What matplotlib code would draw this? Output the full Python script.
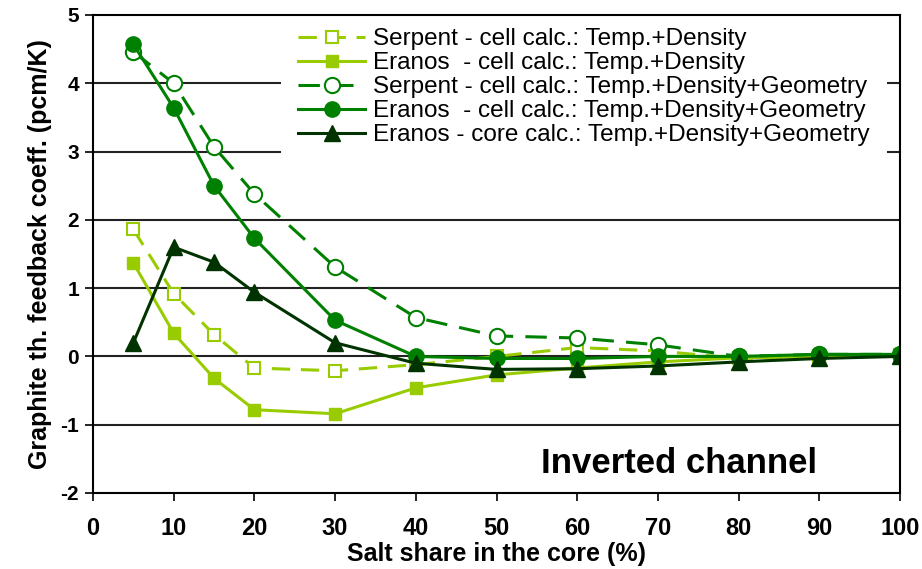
import numpy as np
import matplotlib
matplotlib.use("Agg")
import matplotlib.pyplot as plt

plt.rcParams['font.family'] = ['Liberation Sans', 'DejaVu Sans']
plt.rcParams['axes.unicode_minus'] = False

salt = [5, 10, 15, 20, 30, 40, 50, 60, 70, 80, 90, 100]

serpent_td = [1.86, 0.92, 0.32, -0.17, -0.21, -0.12, 0.0, 0.13, 0.08, -0.03, 0.0, 0.02]
eranos_td = [1.37, 0.34, -0.32, -0.78, -0.84, -0.46, -0.27, -0.17, -0.08, -0.02, 0.0, 0.01]
serpent_tdg = [4.46, 4.0, 3.07, 2.38, 1.31, 0.57, 0.3, 0.27, 0.17, 0.0, 0.03, 0.03]
eranos_tdg = [4.57, 3.64, 2.5, 1.73, 0.53, 0.0, -0.03, -0.03, 0.0, 0.0, 0.03, 0.03]
eranos_core = [0.2, 1.6, 1.38, 0.94, 0.2, -0.1, -0.19, -0.18, -0.14, -0.08, -0.03, 0.0]

labels = [
    "Serpent - cell calc.: Temp.+Density",
    "Eranos  - cell calc.: Temp.+Density",
    "Serpent - cell calc.: Temp.+Density+Geometry",
    "Eranos  - cell calc.: Temp.+Density+Geometry",
    "Eranos - core calc.: Temp.+Density+Geometry",
]

light = "#99cc00"
mid = "#008000"
dark = "#003300"

fig = plt.figure(figsize=(9.22, 5.69), dpi=100)
ax = fig.add_axes([93 / 922, 1 - 493 / 569, 807 / 922, 478 / 569])

for y in range(-1, 5):
    ax.axhline(y, color="#222222", lw=1.5, zorder=1)

ax.plot(salt, serpent_td, color=light, lw=2.2, dashes=(6, 3.5), marker="s", ms=9,
        mfc="white", mec=light, mew=1.5, label=labels[0], zorder=3)
ax.plot(salt, eranos_td, color=light, lw=2.2, marker="s", ms=9,
        mfc=light, mec=light, label=labels[1], zorder=3)
ax.plot(salt, serpent_tdg, color=mid, lw=2.2, dashes=(7, 4), marker="o", ms=11,
        mfc="white", mec=mid, mew=1.5, label=labels[2], zorder=4)
ax.plot(salt, eranos_tdg, color=mid, lw=2.2, marker="o", ms=11,
        mfc=mid, mec=mid, label=labels[3], zorder=4)
ax.plot(salt, eranos_core, color=dark, lw=2.2, marker="^", ms=11,
        mfc=dark, mec=dark, label=labels[4], zorder=5)

ax.set_xlim(0, 100)
ax.set_ylim(-2, 5)
ax.set_xticks(np.arange(0, 101, 10))
ax.set_yticks(np.arange(-2, 6, 1))
for s in ax.spines.values():
    s.set_linewidth(1.5)
    s.set_color("black")
    s.set_zorder(10)
ax.tick_params(direction="out", length=6, width=1.2)
ax.tick_params(axis="y", labelsize=15, pad=4)
ax.tick_params(axis="x", labelsize=17, pad=11)
for t in ax.get_xticklabels() + ax.get_yticklabels():
    t.set_fontweight("bold")

ax.set_xlabel("Salt share in the core (%)", fontsize=18, fontweight="bold", labelpad=2)
ax.set_ylabel("Graphite th. feedback coeff. (pcm/K)", fontsize=18, fontweight="bold", labelpad=6)

ax.text(72.6, -1.57, "Inverted channel", fontsize=25, fontweight="bold", ha="center", va="center")

leg = ax.legend(loc="upper left", bbox_to_anchor=(0.218, 1.033), fontsize=17.5,
                frameon=True, framealpha=1, edgecolor="none", fancybox=False,
                handlelength=2.75, handletextpad=0.34, labelspacing=0.08, borderpad=0.7)
leg.set_zorder(6)

fig.savefig("out.png", dpi=100)
